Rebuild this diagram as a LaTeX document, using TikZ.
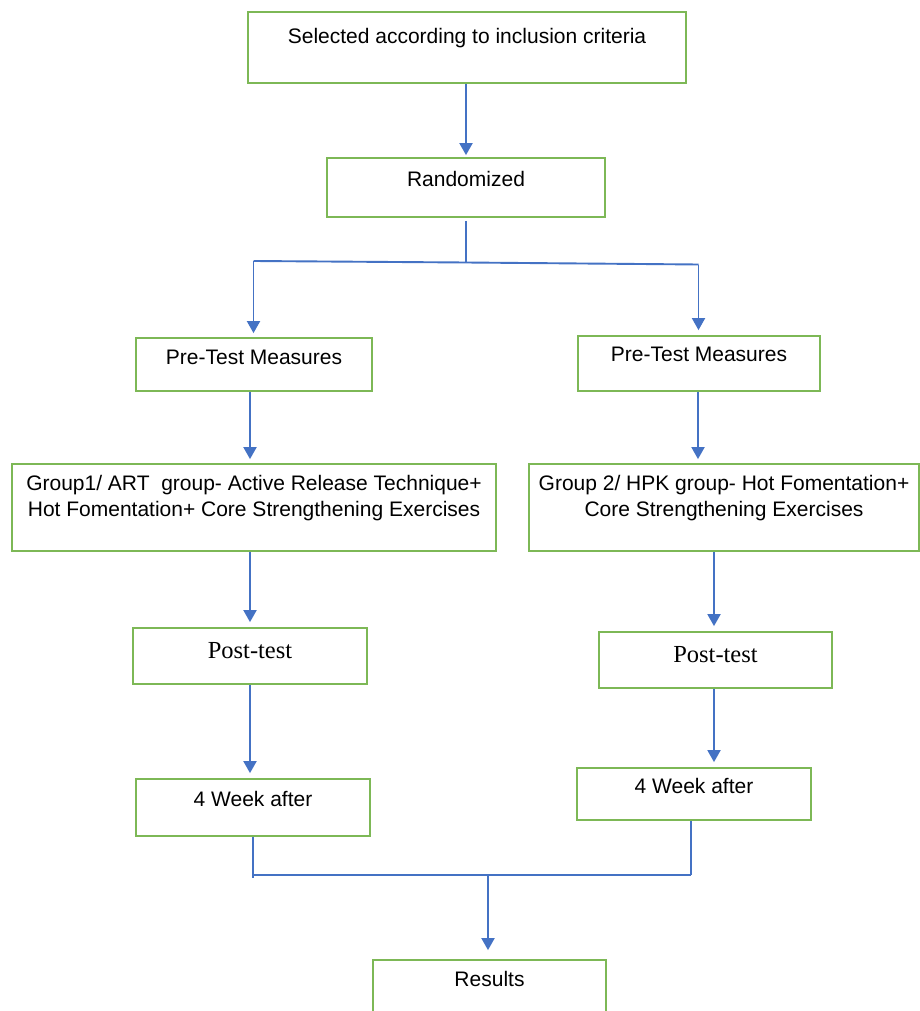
\documentclass[tikz,border=0pt]{standalone}
\usepackage{fontspec}
\setmainfont{Liberation Sans}
\newfontfamily\serifft{Liberation Serif}
\usetikzlibrary{arrows.meta}
\definecolor{boxgreen}{RGB}{125,184,86}
\definecolor{arrblue}{RGB}{68,114,196}
\begin{document}
\begin{tikzpicture}[x=1pt,y=-1pt,
  box/.style={draw=boxgreen, line width=1.8pt, rectangle, inner sep=0pt},
  lab/.style={font=\fontsize{21}{26}\selectfont, align=center, inner sep=0pt},
  slab/.style={font=\serifft\fontsize{24.5}{28}\selectfont, align=center, inner sep=0pt},
  arr/.style={draw=arrblue, line width=1.9pt, -{Triangle[width=13pt,length=12pt]}},
  ln/.style={draw=arrblue, line width=1.9pt}]
\useasboundingbox (0,0) rectangle (920,1011);
\clip (0,0) rectangle (920,1011);
\fill[white] (0,0) rectangle (920,1011);

\node[box, minimum width=438, minimum height=71,
  label={[lab, yshift=9.5]center:Selected according to inclusion criteria}] (sel) at (467,47.5) {};
\node[box, minimum width=278, minimum height=59,
  label={[lab, yshift=8.5]center:Randomized}] (rand) at (466,187.5) {};
\node[box, minimum width=236, minimum height=53,
  label={[lab, yshift=7.5]center:Pre-Test Measures}] (preL) at (254,364.5) {};
\node[box, minimum width=242, minimum height=55,
  label={[lab, yshift=9.5]center:Pre-Test Measures}] (preR) at (699,363.5) {};
\node[box, minimum width=484, minimum height=87,
  label={[lab, yshift=9.5]center:Group1/ ART\ \ group- Active Release Technique+\\Hot Fomentation+ Core Strengthening Exercises}] (grp1) at (254,507.5) {};
\node[box, minimum width=390, minimum height=87,
  label={[lab, yshift=9.5]center:Group 2/ HPK group- Hot Fomentation+\\Core Strengthening Exercises}] (grp2) at (724,507.5) {};
\node[box, minimum width=234, minimum height=56,
  label={[slab, yshift=5]center:Post-test}] (postL) at (250,656) {};
\node[box, minimum width=233, minimum height=56,
  label={[slab, yshift=5]center:Post-test}] (postR) at (715.5,660) {};
\node[box, minimum width=234, minimum height=57,
  label={[lab, yshift=8.5]center:4 Week after}] (wkL) at (253,807.5) {};
\node[box, minimum width=234, minimum height=52,
  label={[lab, yshift=8]center:4 Week after}] (wkR) at (694,794) {};
\node[box, minimum width=233, minimum height=70,
  label={[lab, yshift=16]center:Results}] (res) at (489.5,995) {};

% connectors
\coordinate (j1) at (466,262.5);
\coordinate (j1L) at (253.5,261);
\coordinate (j1R) at (698.5,264.5);
\draw[arr, shorten >=2pt] (sel.south -| 466,0) -- (rand.north -| 466,0);
\draw[ln] ([yshift=-3]rand.south -| j1) -- (j1);
\draw[ln] (j1L) -- (j1) -- (j1R);
\draw[arr, shorten >=4pt] (j1L) -- (preL.north -| j1L);
\draw[arr, shorten >=5pt] (j1R) -- (preR.north -| j1R);

\draw[arr, shorten >=4pt] (preL.south -| 250,0) -- (grp1.north -| 250,0);
\draw[arr, shorten >=4pt] (preR.south -| 698,0) -- (grp2.north -| 698,0);
\draw[arr, shorten >=5pt] (grp1.south -| 250,0) -- (postL.north -| 250,0);
\draw[arr, shorten >=5pt] (grp2.south -| 714,0) -- (postR.north -| 714,0);
\draw[arr, shorten >=5pt] (postL.south -| 250,0) -- (wkL.north -| 250,0);
\draw[arr, shorten >=5pt] (postR.south -| 714,0) -- (wkR.north -| 714,0);

\coordinate (j2L) at (253,875);
\coordinate (j2R) at (691,875);
\coordinate (j2) at (488,875);
\draw[ln] (wkL.south -| j2L) -- ([yshift=-3]j2L);
\draw[ln] (wkR.south -| j2R) -- (j2R);
\draw[ln] (j2L) -- (j2R);
\draw[arr, shorten >=9pt] (j2) -- (res.north -| j2);
\end{tikzpicture}
\end{document}
